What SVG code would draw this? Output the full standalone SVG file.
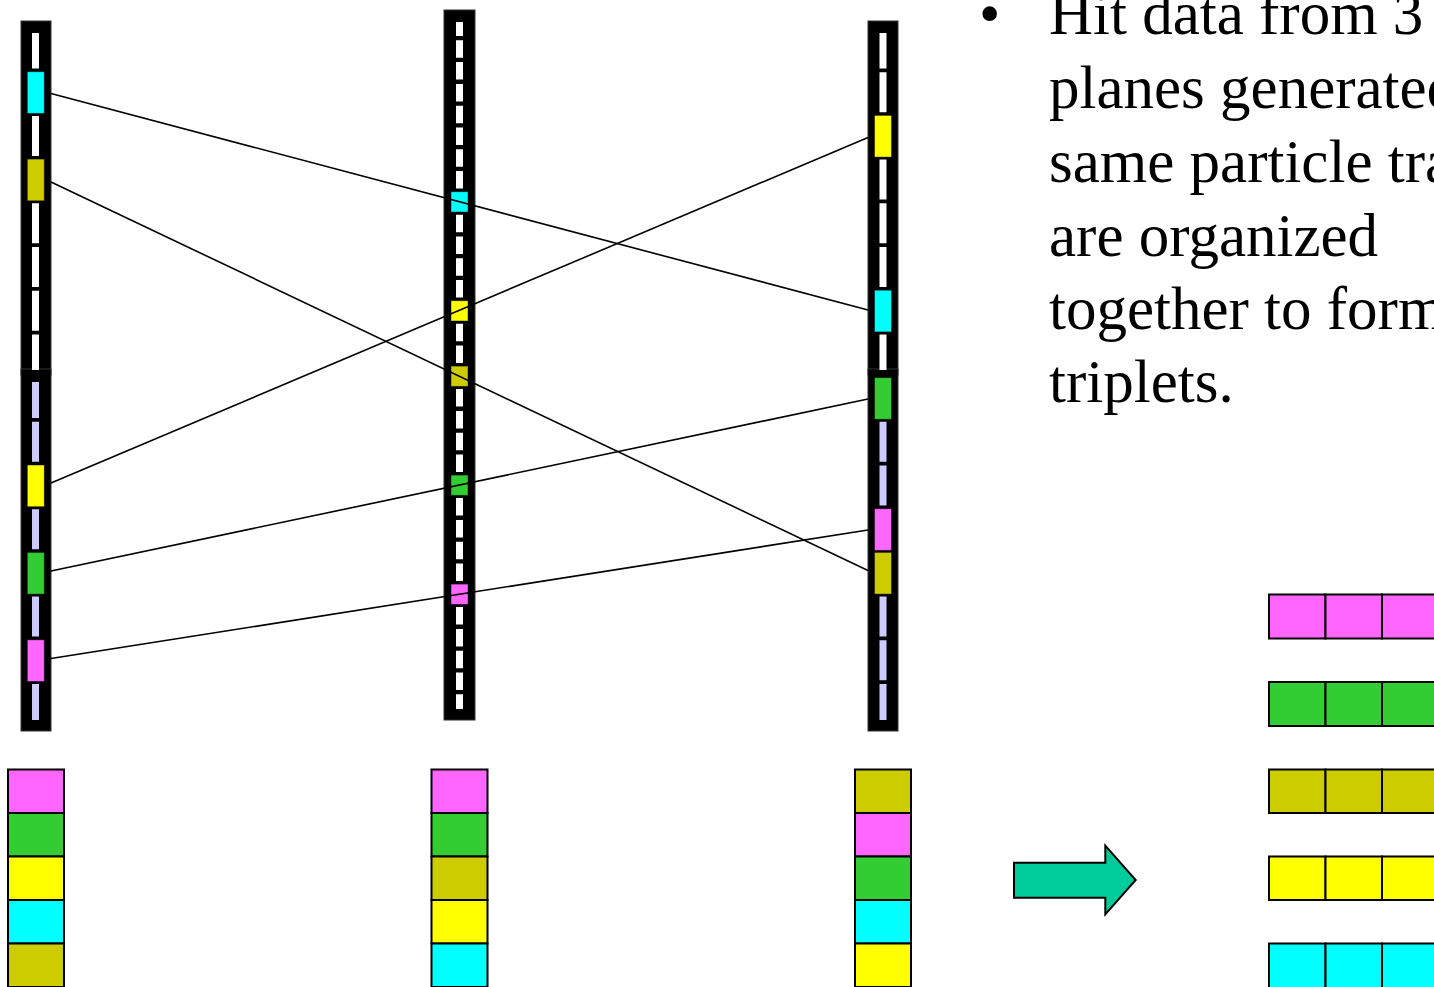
<svg xmlns="http://www.w3.org/2000/svg" width="1434" height="987" viewBox="0 0 1434 987">
  <style>
    .bar { fill: #000; stroke: #333; stroke-width: 1; }
    .dash-w { stroke: #fff; stroke-width: 7; fill: none; }
    .dash-l { stroke: #ccccff; stroke-width: 7; fill: none; }
    .hit { stroke: #000; stroke-opacity: 0.45; stroke-width: 1; }
    .cell { stroke: #000; stroke-width: 2; }
    .mag { fill: #ff66ff; }
    .grn { fill: #33cc33; }
    .yel { fill: #ffff00; }
    .cya { fill: #00ffff; }
    .olv { fill: #cccc00; }
    .track { stroke: #000; stroke-width: 1.6; fill: none; }
    .txt { font-family: "Liberation Serif", "Times New Roman", serif; font-size: 61px; fill: #000; }
  </style>

  <rect width="1434" height="987" fill="#fff"/>

  <!-- plane 1 (left) -->
  <g id="plane-left">
    <rect class="bar" x="21" y="21" width="30" height="354"/>
    <rect class="bar" x="21" y="369" width="30" height="362"/>
    <line class="dash-w" x1="35.5" y1="33" x2="35.5" y2="370" stroke-dasharray="40 3.7" stroke-dashoffset="4.5"/>
    <line class="dash-l" x1="35.5" y1="382" x2="35.5" y2="720" stroke-dasharray="40 3.7" stroke-dashoffset="3.9"/>
    <rect class="hit cya" x="27.3" y="71.7" width="17" height="41.7"/>
    <rect class="hit olv" x="27.3" y="159.1" width="17" height="41.7"/>
    <rect class="hit yel" x="27.3" y="465" width="17" height="41.7"/>
    <rect class="hit grn" x="27.3" y="552.4" width="17" height="41.7"/>
    <rect class="hit mag" x="27.3" y="639.8" width="17" height="41.7"/>
  </g>

  <!-- plane 2 (middle) -->
  <g id="plane-middle">
    <rect class="bar" x="444" y="10" width="31" height="710"/>
    <line class="dash-w" x1="459.5" y1="22" x2="459.5" y2="709" stroke-dasharray="17.5 4.3" stroke-dashoffset="3.5"/>
    <rect class="hit cya" x="451" y="191.7" width="17" height="20.3"/>
    <rect class="hit yel" x="451" y="300.7" width="17" height="20.3"/>
    <rect class="hit olv" x="451" y="366.1" width="17" height="20.3"/>
    <rect class="hit grn" x="451" y="475.1" width="17" height="20.3"/>
    <rect class="hit mag" x="451" y="584.1" width="17" height="20.3"/>
  </g>

  <!-- plane 3 (right) -->
  <g id="plane-right">
    <rect class="bar" x="868" y="21" width="30" height="354"/>
    <rect class="bar" x="868" y="369" width="30" height="362"/>
    <line class="dash-w" x1="883" y1="33" x2="883" y2="370" stroke-dasharray="40 3.7" stroke-dashoffset="4.5"/>
    <line class="dash-l" x1="883" y1="382" x2="883" y2="720" stroke-dasharray="40 3.7" stroke-dashoffset="3.9"/>
    <rect class="hit yel" x="874.5" y="115.4" width="17" height="41.7"/>
    <rect class="hit cya" x="874.5" y="290.2" width="17" height="41.7"/>
    <rect class="hit grn" x="874.5" y="377.6" width="17" height="41.7"/>
    <rect class="hit mag" x="874.5" y="508.7" width="17" height="41.7"/>
    <rect class="hit olv" x="874.5" y="552.4" width="17" height="41.7"/>
  </g>

  <!-- particle tracks across the three planes -->
  <g id="connectors">
    <line class="track" x1="51" y1="93.5" x2="868" y2="310"/>
    <line class="track" x1="51" y1="182" x2="868" y2="570.5"/>
    <line class="track" x1="51" y1="483" x2="868" y2="137.5"/>
    <line class="track" x1="51" y1="571" x2="868" y2="399"/>
    <line class="track" x1="51" y1="658.5" x2="868" y2="530"/>
  </g>

  <!-- per-plane hit buffers -->
  <g id="buffer-left">
    <rect class="cell mag" x="8" y="769.5" width="56" height="43.5"/>
    <rect class="cell grn" x="8" y="813" width="56" height="43.5"/>
    <rect class="cell yel" x="8" y="856.5" width="56" height="43.5"/>
    <rect class="cell cya" x="8" y="900" width="56" height="43.5"/>
    <rect class="cell olv" x="8" y="943.5" width="56" height="43.5"/>
  </g>
  <g id="buffer-middle">
    <rect class="cell mag" x="431.5" y="769.5" width="56" height="43.5"/>
    <rect class="cell grn" x="431.5" y="813" width="56" height="43.5"/>
    <rect class="cell olv" x="431.5" y="856.5" width="56" height="43.5"/>
    <rect class="cell yel" x="431.5" y="900" width="56" height="43.5"/>
    <rect class="cell cya" x="431.5" y="943.5" width="56" height="43.5"/>
  </g>
  <g id="buffer-right">
    <rect class="cell olv" x="855" y="769.5" width="56" height="43.5"/>
    <rect class="cell mag" x="855" y="813" width="56" height="43.5"/>
    <rect class="cell grn" x="855" y="856.5" width="56" height="43.5"/>
    <rect class="cell cya" x="855" y="900" width="56" height="43.5"/>
    <rect class="cell yel" x="855" y="943.5" width="56" height="43.5"/>
  </g>

  <!-- block arrow -->
  <g id="arrow">
    <polygon points="1014,862.7 1105.3,862.7 1105.3,845.7 1135.7,880 1105.3,914.3 1105.3,897.7 1014,897.7" fill="#00cc99" stroke="#000" stroke-width="2" stroke-linejoin="miter"/>
  </g>

  <!-- assembled triplets -->
  <g id="triplet-magenta">
    <rect class="cell mag" x="1269" y="594.5" width="56.5" height="44"/>
    <rect class="cell mag" x="1325.5" y="594.5" width="56.5" height="44"/>
    <rect class="cell mag" x="1382" y="594.5" width="56.5" height="44"/>
  </g>
  <g id="triplet-green">
    <rect class="cell grn" x="1269" y="682" width="56.5" height="44"/>
    <rect class="cell grn" x="1325.5" y="682" width="56.5" height="44"/>
    <rect class="cell grn" x="1382" y="682" width="56.5" height="44"/>
  </g>
  <g id="triplet-olive">
    <rect class="cell olv" x="1269" y="769.5" width="56.5" height="43.5"/>
    <rect class="cell olv" x="1325.5" y="769.5" width="56.5" height="43.5"/>
    <rect class="cell olv" x="1382" y="769.5" width="56.5" height="43.5"/>
  </g>
  <g id="triplet-yellow">
    <rect class="cell yel" x="1269" y="856.5" width="56.5" height="43.5"/>
    <rect class="cell yel" x="1325.5" y="856.5" width="56.5" height="43.5"/>
    <rect class="cell yel" x="1382" y="856.5" width="56.5" height="43.5"/>
  </g>
  <g id="triplet-cyan">
    <rect class="cell cya" x="1269" y="943.5" width="56.5" height="45"/>
    <rect class="cell cya" x="1325.5" y="943.5" width="56.5" height="45"/>
    <rect class="cell cya" x="1382" y="943.5" width="56.5" height="45"/>
  </g>

  <!-- bullet text -->
  <g id="caption" class="txt">
    <text x="979" y="34">•</text>
    <text x="1049" y="34">Hit data from 3</text>
    <text x="1049" y="108">planes generated</text>
    <text x="1049" y="182">same particle tracks</text>
    <text x="1049" y="255.5">are organized</text>
    <text x="1049" y="329">together to form</text>
    <text x="1049" y="402">triplets.</text>
  </g>
</svg>
